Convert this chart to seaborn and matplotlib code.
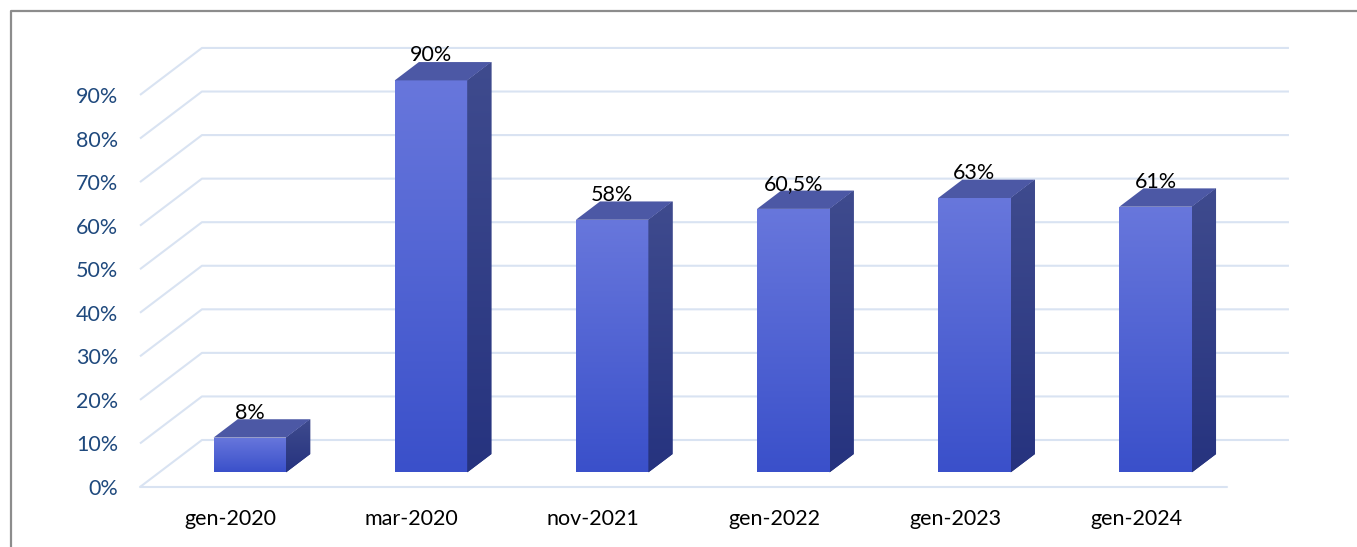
import numpy as np
import pandas as pd
import matplotlib
matplotlib.use("Agg")
import matplotlib.pyplot as plt
import matplotlib.transforms as mtransforms
from matplotlib.colors import LinearSegmentedColormap
from matplotlib.patches import Polygon
from matplotlib.lines import Line2D
import seaborn as sns

# ---- data ----
categories = ["gen-2020", "mar-2020", "nov-2021", "gen-2022", "gen-2023", "gen-2024"]
values = [8, 90, 58, 60.5, 63, 61]
value_labels = ["8%", "90%", "58%", "60,5%", "63%", "61%"]
tick_values = [0, 10, 20, 30, 40, 50, 60, 70, 80, 90]
tick_labels = ["0%", "10%", "20%", "30%", "40%", "50%", "60%", "70%", "80%", "90%"]

# ---- style ----
FRONT_TOP = "#6877DC"
FRONT_BOT = "#3A50CA"
SIDE_TOP = "#3F4B8E"
SIDE_BOT = "#26337F"
TOP_FACE = "#4C58A5"
GRID = "#D9E3F2"
AXIS_TEXT = "#1F497D"

# depth of the pseudo-3D floor (category units, percent units)
DX, DY = 0.342, 10.79
F0, F1 = 0.31, 0.70   # front / back of each bar as fraction of depth

sns.set_theme(style="white")
plt.rcParams["font.family"] = ["Lato", "DejaVu Sans"]

fig = plt.figure(figsize=(13.57, 5.47), dpi=100)
fig.patch.set_facecolor("white")
ax = fig.add_axes([140 / 1357, 60 / 547, 1087 / 1357, 435.6 / 547])
ax.set_facecolor("none")

df = pd.DataFrame({"periodo": categories, "quota": values})
sns.barplot(data=df, x="periodo", y="quota", width=0.4, color=FRONT_BOT,
            saturation=1, ax=ax, zorder=3)

front_cmap = LinearSegmentedColormap.from_list("front", [FRONT_BOT, FRONT_TOP])
side_cmap = LinearSegmentedColormap.from_list("side", [SIDE_BOT, SIDE_TOP])
grad = np.linspace(0, 1, 256).reshape(-1, 1)

# walls and floor gridlines
for t in tick_values:
    ax.plot([-0.5, -0.5 + DX, 5.5 + DX], [t, t + DY, t + DY], color=GRID,
            lw=1.5, zorder=1, clip_on=False, solid_capstyle="butt")
ax.plot([-0.5, 5.5], [0, 0], color=GRID, lw=1.5, zorder=1, clip_on=False)

ox0, oy0 = F0 * DX, F0 * DY
ox1, oy1 = F1 * DX, F1 * DY
for patch, lbl in zip(ax.patches, value_labels):
    x0 = patch.get_x()
    w = patch.get_width()
    h = patch.get_height()
    xr = x0 + w
    # front face, pushed back into the floor
    patch.set_transform(mtransforms.Affine2D().translate(ox0, oy0) + ax.transData)
    patch.set_edgecolor("none")
    im = ax.imshow(grad, extent=(x0 + ox0, xr + ox0, oy0, h + oy0), origin="lower",
                   cmap=front_cmap, aspect="auto", zorder=3.1, interpolation="bilinear")
    im.set_clip_path(patch)

    # right side face
    side = Polygon([(xr + ox0, oy0), (xr + ox1, oy1), (xr + ox1, h + oy1), (xr + ox0, h + oy0)],
                   closed=True, facecolor=SIDE_BOT, edgecolor="none", zorder=3)
    ax.add_patch(side)
    im2 = ax.imshow(grad, extent=(xr + ox0, xr + ox1, oy0, h + oy1), origin="lower",
                    cmap=side_cmap, aspect="auto", zorder=3.1, interpolation="bilinear")
    im2.set_clip_path(side)

    # top face
    top = Polygon([(x0 + ox0, h + oy0), (xr + ox0, h + oy0), (xr + ox1, h + oy1), (x0 + ox1, h + oy1)],
                  closed=True, facecolor=TOP_FACE, edgecolor="none", zorder=3.2, clip_on=False)
    ax.add_patch(top)

    ax.annotate(lbl, (x0 + w / 2 + ox0, h + oy0), xytext=(0, 18), textcoords="offset points",
                ha="center", va="center", fontsize=15.5, color="black", zorder=6)

ax.set_xlim(-0.5, 5.5)
ax.set_ylim(0, 100)
ax.set_yticks(tick_values, tick_labels)
ax.set_xlabel("")
ax.set_ylabel("")
ax.tick_params(axis="y", length=0, pad=15.8, labelsize=15.5, labelcolor=AXIS_TEXT)
ax.tick_params(axis="x", length=0, pad=16, labelsize=15.5, labelcolor="black")
for s in ax.spines.values():
    s.set_visible(False)

# chart frame
fig.add_artist(Line2D([11 / 1357, 11 / 1357, 1.0], [0, 1 - 11 / 547, 1 - 11 / 547],
                      color="#8C8C8C", lw=1.6, transform=fig.transFigure))

fig.savefig("out.png", dpi=100)
